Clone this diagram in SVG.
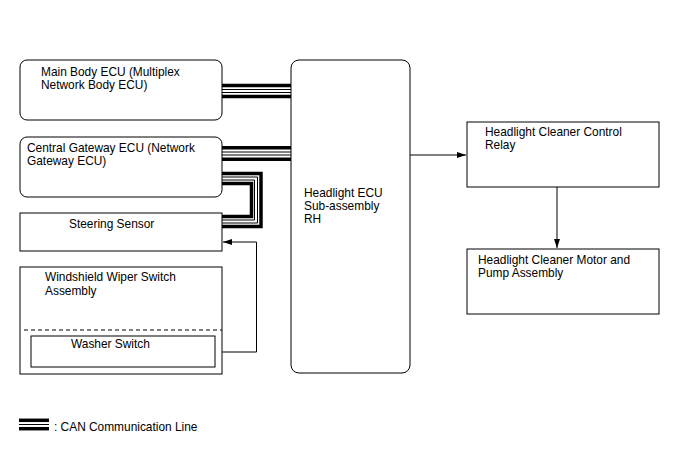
<svg xmlns="http://www.w3.org/2000/svg" width="688" height="463" viewBox="0 0 688 463">
<style>
text{font-family:"Liberation Sans",Arial,sans-serif;font-size:11.9px;fill:#000}
.box{fill:#fff;stroke:#000;stroke-width:1}
.thick{fill:none;stroke:#000;stroke-width:3.5}
.thin{fill:none;stroke:#000;stroke-width:1}
.conn{fill:none;stroke:#000;stroke-width:1}
</style>
<defs>
<marker id="arr" markerWidth="10" markerHeight="8" refX="9" refY="4" orient="auto" markerUnits="userSpaceOnUse">
<path d="M0,1 L9,4 L0,7 Z" fill="#000"/>
</marker>
</defs>
<rect width="688" height="463" fill="#fff"/>
<g id="connectors">
<g id="can-main">
<line class="thick" x1="222" y1="85.5" x2="291" y2="85.5"/>
<line class="thin" x1="222" y1="89.5" x2="291" y2="89.5"/>
<line class="thin" x1="222" y1="92.5" x2="291" y2="92.5"/>
<line class="thick" x1="222" y1="96.5" x2="291" y2="96.5"/>
</g>
<g id="can-gateway">
<line class="thick" x1="222" y1="147.7" x2="291" y2="147.7"/>
<line class="thin" x1="222" y1="152" x2="291" y2="152"/>
<line class="thin" x1="222" y1="155" x2="291" y2="155"/>
<line class="thick" x1="222" y1="159.3" x2="291" y2="159.3"/>
</g>
<g id="can-steering">
<path class="thick" d="M222,173.5 H261 V226.5 H222"/>
<path class="thin" d="M222,177 H257.5 V223 H222"/>
<path class="thin" d="M222,180 H254.5 V220 H222"/>
<path class="thick" d="M222,183.5 H251.5 V216.5 H222"/>
</g>
<path class="conn" d="M215,352 H256.5 V242 H223" marker-end="url(#arr)"/>
<line class="conn" x1="410" y1="155" x2="466" y2="155" marker-end="url(#arr)"/>
<line class="conn" x1="557" y1="187" x2="557" y2="248" marker-end="url(#arr)"/>
</g>
<g id="main-body-ecu">
<rect class="box" x="20" y="60" width="202" height="60" rx="7"/>
<text x="41" y="76">Main Body ECU (Multiplex</text>
<text x="41" y="89">Network Body ECU)</text>
</g>
<g id="central-gateway-ecu">
<rect class="box" x="20" y="137" width="202" height="60" rx="7"/>
<text x="27" y="152">Central Gateway ECU (Network</text>
<text x="27" y="165">Gateway ECU)</text>
</g>
<g id="steering-sensor">
<rect class="box" x="20" y="213" width="202" height="38"/>
<text x="69" y="228">Steering Sensor</text>
</g>
<g id="windshield-wiper-switch">
<rect class="box" x="20" y="267" width="202" height="107"/>
<text x="45" y="281">Windshield Wiper Switch</text>
<text x="45" y="295">Assembly</text>
<line x1="24" y1="330" x2="222" y2="330" stroke="#000" stroke-width="1" stroke-dasharray="4,3"/>
</g>
<g id="washer-switch">
<rect class="box" x="31" y="336" width="184" height="31"/>
<text x="71" y="348">Washer Switch</text>
</g>
<g id="headlight-ecu">
<rect class="box" x="291" y="60" width="119" height="313" rx="8"/>
<text x="304" y="197">Headlight ECU</text>
<text x="304" y="210">Sub-assembly</text>
<text x="304" y="223">RH</text>
</g>
<g id="cleaner-relay">
<rect class="box" x="467" y="122" width="192" height="65"/>
<text x="485" y="136">Headlight Cleaner Control</text>
<text x="485" y="149">Relay</text>
</g>
<g id="cleaner-motor">
<rect class="box" x="467" y="249" width="192" height="65"/>
<text x="478" y="264">Headlight Cleaner Motor and</text>
<text x="478" y="277">Pump Assembly</text>
</g>
<g id="legend">
<line class="thick" x1="19" y1="420.3" x2="49" y2="420.3" stroke-width="3"/>
<line class="thin" x1="19" y1="424.5" x2="49" y2="424.5"/>
<line class="thick" x1="19" y1="428.7" x2="49" y2="428.7" stroke-width="3"/>
<text x="54" y="430.5">: CAN Communication Line</text>
</g>
</svg>
